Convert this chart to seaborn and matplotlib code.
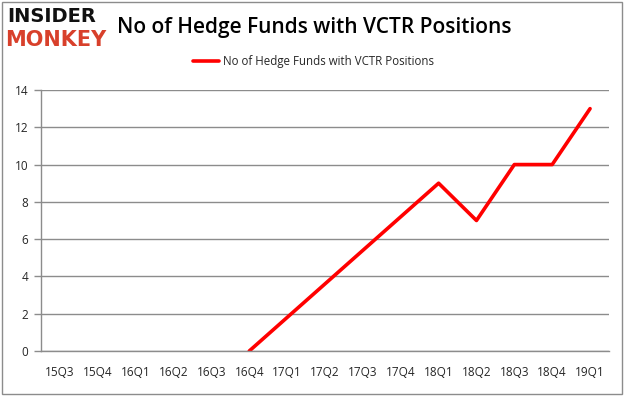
import numpy as np
import pandas as pd
import matplotlib
matplotlib.use("Agg")
import matplotlib.pyplot as plt
import seaborn as sns
from matplotlib.patches import Rectangle

quarters = ["15Q3", "15Q4", "16Q1", "16Q2", "16Q3", "16Q4", "17Q1", "17Q2",
            "17Q3", "17Q4", "18Q1", "18Q2", "18Q3", "18Q4", "19Q1"]
# quarters with no data are left empty, the line just joins across them
funds = [np.nan, np.nan, np.nan, np.nan, np.nan, 0, np.nan, np.nan,
         np.nan, np.nan, 9, 7, 10, 10, 13]
label = "No of Hedge Funds with VCTR Positions"

df = pd.DataFrame({"pos": np.arange(len(quarters)), "funds": funds})

sns.set_style("white")
plt.rcParams['font.family'] = ['Open Sans', 'DejaVu Sans']

fig = plt.figure(figsize=(6.26, 3.97), dpi=100)
ax = fig.add_axes([41 / 626, 1 - 351 / 397, (609 - 41) / 626, (351 - 90) / 397])

sns.lineplot(data=df, x="pos", y="funds", color="#ff0000", linewidth=2.6,
             label=label, ax=ax)

ax.set_xlim(-0.5, len(quarters) - 0.5)
ax.set_ylim(0, 14)
ax.set_yticks(range(0, 15, 2))
ax.yaxis.grid(True, color="#8c8c8c", linewidth=1)
ax.set_axisbelow(True)
ax.set_xticks(range(len(quarters)))
ax.set_xticklabels(quarters, fontsize=8.5)
ax.set_xticks(np.arange(-0.5, len(quarters), 1), minor=True)
ax.tick_params(axis="x", which="major", length=0, pad=11)
ax.tick_params(axis="x", which="minor", length=5, color="#8c8c8c", width=1)
ax.tick_params(axis="y", labelsize=8.5, length=5, color="#8c8c8c", width=1, pad=4)
ax.tick_params(axis="y", left=True)
ax.set_xlabel("")
ax.set_ylabel("")
for s in ["top", "right"]:
    ax.spines[s].set_visible(False)
for s in ["left", "bottom"]:
    ax.spines[s].set_color("#8c8c8c")
    ax.spines[s].set_linewidth(1)

leg = ax.legend(loc="lower center", bbox_to_anchor=(0.479, 1.045), frameon=False,
                fontsize=8.3, handlelength=2.3, handletextpad=0.3)

fig.text(117 / 626, 1 - 27 / 397, label, fontsize=15, fontweight="semibold",
         va="center", ha="left", color="black")
fig.text(7 / 626, 1 - 17 / 397, "INSIDER", fontsize=14, fontweight="heavy",
         va="center", ha="left", color="#111111", family="DejaVu Sans")
fig.text(5 / 626, 1 - 40 / 397, "MONKEY", fontsize=15, fontweight="heavy",
         va="center", ha="left", color="#d8402b", family="DejaVu Sans")

fig.patches.append(Rectangle((2 / 626, 3 / 397), 620 / 626, 392 / 397,
                             transform=fig.transFigure, fill=False,
                             edgecolor="#8c8c8c", linewidth=1))

fig.savefig("out.png", dpi=100)
